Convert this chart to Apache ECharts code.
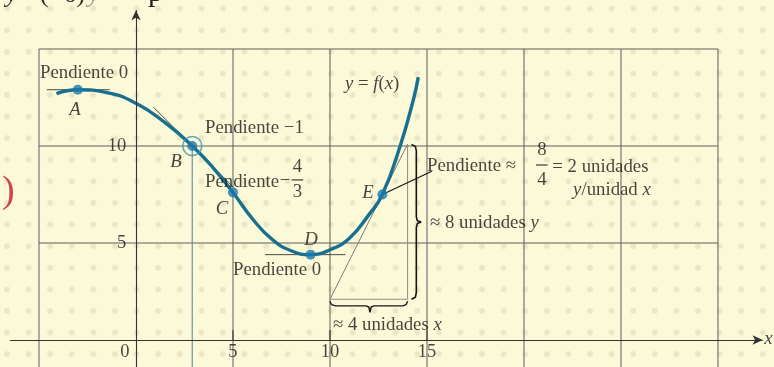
<!DOCTYPE html>
<html>
<head>
<meta charset="utf-8">
<script src="https://cdn.jsdelivr.net/npm/echarts@6/dist/echarts.min.js"></script>
<style>
  html, body { margin: 0; padding: 0; }
  #chart {
    width: 774px; height: 367px;
    background-color: #fcf9d8;
    background-image: radial-gradient(circle, rgba(212,208,176,0.45) 2.4px, rgba(212,208,176,0) 3.4px);
    background-size: 21.6px 21.6px;
    background-position: -3.8px -2.2px;
  }
</style>
</head>
<body>
<div id="chart"></div>
<script>
// Sampled points of y = f(x)
const curveX = [-4.1, -3, -1.5, 0, 1.5, 2.9, 4, 5, 6, 7, 8, 9, 10, 11, 12, 12.7, 13.6, 14.3, 14.55];
const curveY = [12.7, 12.9, 12.75, 12.2, 11.2, 10.0, 8.85, 7.6, 6.25, 5.2, 4.6, 4.4, 4.65, 5.25, 6.45, 7.5, 9.95, 12.4, 13.55];

// Marked points and the slope of the tangent at each
const pointNames = ['A', 'B', 'C', 'D', 'E'];
const pointX = [-3, 2.9, 5, 9, 12.7];
const pointY = [12.9, 10, 7.6, 4.4, 7.5];
const pointSlopes = [0, -1, -4 / 3, 0, 2];
const tangentFrom = [-4.6, 0.9, 4.3, 6.65, 10];
const tangentTo = [-1.35, 5.0, 5.8, 10.8, 14];

// Axis ticks and grid lines
const xTicks = [0, 5, 10, 15];
const yTicks = [5, 10];
const gridXs = [-5, 5, 10, 15, 20, 25, 30];
const gridYs = [5, 10, 15];

// Visible window of the plane
const X_MIN = -7.0103, X_MAX = 32.887;
const Y_MIN = -1.3918, Y_MAX = 17.526;

const ink = '#161616';
const serif = '"Liberation Serif", "Times New Roman", serif';
const fs = 18.8;

function seg(points, color, width, z) {
  return {
    type: 'line', data: points, symbol: 'none', silent: true, animation: false,
    lineStyle: { color: color, width: width }, z: z || 2
  };
}

const series = [];

// grid
gridXs.forEach(gx => series.push(seg([[gx, 15], [gx, Y_MIN]], '#5e5e5e', 1, 1)));
gridYs.forEach(gy => series.push(seg([[-5, gy], [30, gy]], '#5e5e5e', 1, 1)));

// axes with arrow heads
series.push({
  type: 'line', data: [], silent: true, animation: false, z: 2,
  markLine: {
    silent: true, animation: false,
    symbol: ['none', 'arrow'], symbolSize: [7, 10],
    lineStyle: { color: '#333', width: 1.1, type: 'solid' },
    label: { show: false },
    data: [
      [{ coord: [-6.5, 0] }, { coord: [32.3, 0] }],
      [{ coord: [0, Y_MIN] }, { coord: [0, 17.0] }]
    ]
  }
});

// tick marks on the x axis
xTicks.filter(t => t !== 0).forEach(t => series.push(seg([[t, 0], [t, 0.5]], '#333', 1.1, 2)));

// drop line under B
series.push(seg([[pointX[1], pointY[1]], [pointX[1], Y_MIN]], '#6a97a5', 1.2, 2));

// tangent lines
pointX.forEach((px, i) => {
  const s = pointSlopes[i], py = pointY[i];
  const a = tangentFrom[i], b = tangentTo[i];
  const col = i === 4 ? '#7a7a7a' : '#4a4a4a';
  series.push(seg([[a, py + s * (a - px)], [b, py + s * (b - px)]], col, 1, 3));
});

// rise / run triangle along the tangent at E
const runStart = tangentFrom[4], runEnd = tangentTo[4];
const baseY = pointY[4] + pointSlopes[4] * (runStart - pointX[4]);
const topY = pointY[4] + pointSlopes[4] * (runEnd - pointX[4]);
series.push(seg([[runStart, baseY], [runEnd, baseY], [runEnd, topY]], '#8a8a8a', 1, 3));

// braces
series.push(seg([
  [14.2, 10.08], [14.4, 9.98], [14.45, 9.75], [14.45, 6.35], [14.5, 6.15], [14.7, 6.08],
  [14.5, 6.0], [14.45, 5.8], [14.45, 2.45], [14.4, 2.2], [14.2, 2.1]
], ink, 1.6, 3));
series.push(seg([
  [10, 2.0], [10.08, 1.82], [10.3, 1.76], [11.85, 1.76], [12.0, 1.7], [12.06, 1.42],
  [12.12, 1.7], [12.27, 1.76], [13.75, 1.76], [13.92, 1.82], [14, 2.0]
], ink, 1.4, 3));

// leader from E to its note
series.push(seg([[pointX[4], pointY[4]], [15.25, 8.7]], ink, 1.2, 3));

// fraction bars
series.push(seg([[8.02, 8.25], [8.62, 8.25]], ink, 1, 3));
series.push(seg([[20.62, 9.02], [21.22, 9.02]], ink, 1, 3));

// the curve
series.push({
  type: 'line', data: curveX.map((x, i) => [x, curveY[i]]),
  smooth: 0.5, symbol: 'none', silent: true, animation: false,
  lineStyle: { color: '#17708f', width: 3.4 }, z: 4
});

// ring around B
series.push({
  type: 'scatter', data: [[pointX[1], pointY[1]]], symbolSize: 19, silent: true, animation: false,
  itemStyle: { color: 'rgba(0,0,0,0)', borderColor: '#3f94ad', borderWidth: 1.6 }, z: 5
});

// marked points
series.push({
  type: 'scatter', name: 'puntos', data: pointX.map((x, i) => [x, pointY[i]]),
  symbolSize: 10, silent: true, animation: false,
  itemStyle: { color: '#1b78ab' }, z: 6
});

// text notes
const rich = {
  i: { fontFamily: serif, fontSize: fs, fontStyle: 'italic', color: ink },
  t: { fontFamily: serif, fontSize: 18.5, color: ink }
};
function note(x, y, text, align) {
  return { value: [x, y], label: { formatter: text, align: align || 'left' } };
}
const notes = [
  note(-4.95, 13.76, 'Pendiente 0'),
  note(-3.14, 11.86, '{i|' + pointNames[0] + '}', 'center'),
  note(2.06, 9.18, '{i|' + pointNames[1] + '}', 'center'),
  note(3.56, 10.93, 'Pendiente \u22121'),
  note(3.56, 8.14, 'Pendiente'),
  note(7.68, 8.2, '\u2212', 'center'),
  note(8.32, 8.92, '4', 'center'),
  note(8.32, 7.63, '3', 'center'),
  note(4.43, 6.75, '{i|' + pointNames[2] + '}', 'center'),
  note(9.02, 5.15, '{i|' + pointNames[3] + '}', 'center'),
  note(5.0, 3.61, 'Pendiente 0'),
  note(11.96, 7.58, '{i|' + pointNames[4] + '}', 'center'),
  note(10.77, 13.2, '{i|y} = {i|f}({i|x})'),
  note(15.0, 8.97, 'Pendiente \u2248'),
  note(20.92, 9.79, '8', 'center'),
  note(20.92, 8.25, '4', 'center'),
  note(21.46, 8.92, '= 2 unidades'),
  note(22.53, 7.73, '{i|y}/unidad {i|x}'),
  note(15.15, 6.03, '\u2248 8 unidades {i|y}'),
  note(10.15, 0.77, '\u2248 4 unidades {i|x}'),
  note(32.6, 0.05, '{i|x}', 'center')
];
yTicks.forEach(t => notes.push(note(-0.5, t, '{t|' + t + '}', 'right')));
xTicks.forEach(t => notes.push(note(t === 0 ? -0.57 : t, -0.62, '{t|' + t + '}', 'center')));

series.push({
  type: 'scatter', data: notes, symbolSize: 1, silent: true, animation: false,
  itemStyle: { color: 'rgba(0,0,0,0)' }, z: 7,
  label: {
    show: true, position: 'inside', verticalAlign: 'middle',
    fontFamily: serif, fontSize: fs, color: ink, rich: rich
  }
});

const chart = echarts.init(document.getElementById('chart'), null, { renderer: 'canvas' });
chart.setOption({
  backgroundColor: 'transparent',
  animation: false,
  grid: { left: 0, right: 0, top: 0, bottom: 0 },
  xAxis: { type: 'value', min: X_MIN, max: X_MAX, show: false },
  yAxis: { type: 'value', min: Y_MIN, max: Y_MAX, show: false },
  graphic: [
    { type: 'text', x: 6, y: -5, style: { text: 'y', font: 'italic 26px "Liberation Serif"', fill: '#333', verticalAlign: 'middle' } },
    { type: 'text', x: 40, y: -5, style: { text: '(\u22126)', font: '26px "Liberation Serif"', fill: '#333', verticalAlign: 'middle' } },
    { type: 'text', x: 88, y: -5, style: { text: 'y', font: 'italic 26px "Liberation Serif"', fill: '#9a9a9a', verticalAlign: 'middle' } },
    { type: 'text', x: 148, y: -7, style: { text: 'p', font: '30px "Liberation Serif"', fill: '#222', verticalAlign: 'middle' } },
    { type: 'text', x: 2, y: 192, style: { text: ')', font: '38px "Liberation Serif"', fill: '#d2434f', verticalAlign: 'middle' } }
  ],
  series: series
});
</script>
</body>
</html>
